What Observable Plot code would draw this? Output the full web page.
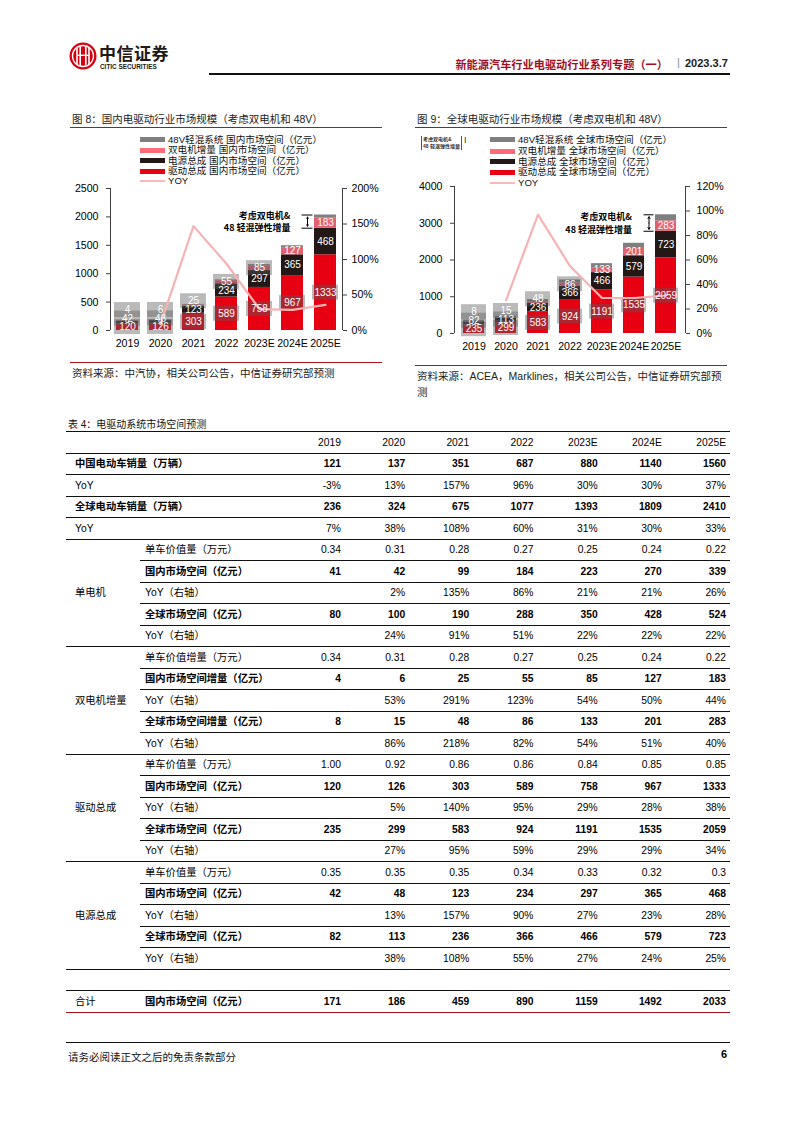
<!DOCTYPE html>
<html><head><meta charset="utf-8">
<script src="https://cdn.jsdelivr.net/npm/d3@7"></script>
<script src="https://cdn.jsdelivr.net/npm/@observablehq/plot@0.6"></script>
<style>
html,body{margin:0;padding:0;background:#fff}
body{width:794px;height:1123px;position:relative;overflow:hidden;font-family:"Liberation Sans",Arial,"Noto Sans CJK SC",sans-serif;color:#000}
.abs{position:absolute;white-space:nowrap}
.leg{position:absolute;font-size:9.6px;line-height:10px;white-space:nowrap;color:#111}
.sw{position:absolute;width:25px}
.figt{position:absolute;font-size:10.5px;color:#222;white-space:nowrap}
.redline{position:absolute;height:1px;background:#B5121B}
.src{position:absolute;font-size:10.5px;color:#222;line-height:16px}
.cell{position:absolute;white-space:nowrap;font-size:10.3px;line-height:21.5px;height:21.5px}
.num{text-align:right;width:60px}
.hl{position:absolute;height:1px;background:#111}
</style></head>
<body>
<div id="page"></div>
<script>
// ---------------- data ----------------
const years = ["2019","2020","2021","2022","2023E","2024E","2025E"];
const seriesNames = ["驱动总成","电源总成","双电机增量","48V轻混系统"];
const seriesColors = ["#E60012","#231815","#E3606E","#7F7F7F"];
const yoyColor = "#F7B3B3";

// Fig 8 domestic (亿元)
const cnDrive = [120,126,303,589,758,967,1333];
const cnPower = [42,48,123,234,297,365,468];
const cnDual  = [4,6,25,55,85,127,183];
const cn48v   = [5,6,8,12,19,33,49];
const cnYoy   = [null,9,147,94,30,29,36];
const cnLeftTicks = [0,500,1000,1500,2000,2500];
const cnRightTicks = [0,50,100,150,200];

// Fig 9 global (亿元)
const glDrive = [235,299,583,924,1191,1535,2059];
const glPower = [82,113,236,366,466,579,723];
const glDual  = [8,15,48,86,133,201,283];
const gl48v   = [40,40,55,80,110,140,165];
const glYoy   = [null,27,97,55,29,29,31];
const glLeftTicks = [0,1000,2000,3000,4000];
const glRightTicks = [0,20,40,60,80,100,120];

// Table 4
const cnEV = ["121","137","351","687","880","1140","1560"];
const cnEVYoy = ["-3%","13%","157%","96%","30%","30%","37%"];
const glEV = ["236","324","675","1077","1393","1809","2410"];
const glEVYoy = ["7%","38%","108%","60%","31%","30%","33%"];
const smUnit = ["0.34","0.31","0.28","0.27","0.25","0.24","0.22"];
const smCN = ["41","42","99","184","223","270","339"];
const smCNYoy = ["","2%","135%","86%","21%","21%","26%"];
const smGL = ["80","100","190","288","350","428","524"];
const smGLYoy = ["","24%","91%","51%","22%","22%","22%"];
const dmUnit = ["0.34","0.31","0.28","0.27","0.25","0.24","0.22"];
const dmCNYoy = ["","53%","291%","123%","54%","50%","44%"];
const dmGLYoy = ["","86%","218%","82%","54%","51%","40%"];
const drUnit = ["1.00","0.92","0.86","0.86","0.84","0.85","0.85"];
const drCNYoy = ["","5%","140%","95%","29%","28%","38%"];
const drGLYoy = ["","27%","95%","59%","29%","29%","34%"];
const pwUnit = ["0.35","0.35","0.35","0.34","0.33","0.32","0.3"];
const pwCNYoy = ["","13%","157%","90%","27%","23%","28%"];
const pwGLYoy = ["","38%","108%","55%","27%","24%","25%"];
const totalCN = ["171","186","459","890","1159","1492","2033"];

// ---------------- helpers ----------------
const page = document.getElementById("page");
function el(tag, cls, style, html){
  const e=document.createElement(tag); if(cls) e.className=cls;
  if(style) Object.assign(e.style, style); if(html!=null) e.innerHTML=html;
  page.appendChild(e); return e;
}
const px = v => v+"px";

// ---------------- header ----------------
const logo = el("div","abs",{left:"69px",top:"42px"});
logo.innerHTML = `<svg width="28" height="28" viewBox="0 0 28 28">
<circle cx="14" cy="14" r="13.5" fill="#D7000F"/>
<circle cx="14" cy="14" r="10.5" fill="none" stroke="#fff" stroke-width="1.3"/>
<rect x="7.2" y="6" width="1.6" height="16" fill="#fff"/><rect x="10.4" y="4.5" width="1.6" height="19" fill="#fff"/>
<rect x="16" y="4.5" width="1.6" height="19" fill="#fff"/><rect x="19.2" y="6" width="1.6" height="16" fill="#fff"/>
<rect x="8" y="12.6" width="12" height="1.4" fill="#fff"/></svg>`;
el("div","abs",{left:"99px",top:"44px",fontSize:"17px",lineHeight:"17px",fontWeight:"bold",letterSpacing:"0.5px",color:"#231815",fontFamily:"'Noto Sans CJK SC',sans-serif"},"中信证券");
el("div","abs",{left:"100px",top:"63px",fontSize:"6.4px",lineHeight:"7px",fontWeight:"bold",color:"#231815"},"CITIC SECURITIES");
el("div","abs",{right:"126px",top:"56px",fontSize:"11.2px",fontWeight:"bold",color:"#A00E1E",fontFamily:"'Noto Sans CJK SC',sans-serif"},"新能源汽车行业电驱动行业系列专题（一）");
el("div","abs",{left:"677px",top:"56px",fontSize:"11px",color:"#888"},"|");
el("div","abs",{left:"685px",top:"57px",fontSize:"11px",fontWeight:"bold",color:"#1a1a1a"},"2023.3.7");
el("div","abs",{left:"209px",top:"73px",width:"521px",height:"2px",background:"#111"});

// ---------------- chart builder ----------------
function makeChart(o){
  const plotH = o.height - o.marginTop - o.marginBottom;
  const upp = o.yMax / plotH;
  const factor = o.yMax / o.rMax;
  const cols = [o.drive,o.power,o.dual,o.v48];
  const stack=[], labels=[], boxes=[];
  years.forEach((yr,i)=>{
    let base=0, prev=-Infinity;
    cols.forEach((arr,k)=>{
      const v=arr[i];
      stack.push({year:yr, s:seriesNames[k], v});
      if(k<3){
        const ly=Math.max(base+v/2, prev+o.gap*upp);
        prev=ly;
        labels.push({year:yr, y:ly, t:String(v)});
        const boxed = k===0 || (k===1 && i<2) || (k===2 && i<o.dualBoxN);
        if(boxed) boxes.push({year:yr, y1:ly-7.5*upp, y2:ly+7.5*upp});
      }
      base+=v;
    });
  });
  const L = years.length-1;
  const lastYear = years[L];
  const lastTop = cols.reduce((s,a)=>s+a[L],0);
  const lastMid = o.drive[L]+o.power[L];
  const bm = (lastTop+lastMid)/2;
  const yoyPts = years.map((yr,i)=>({year:yr, y:o.yoy[i]})).filter(d=>d.y!=null).map(d=>({year:d.year, y:d.y*factor}));
  const axisLines = (index, scales, values, dims) => {
    const ns="http://www.w3.org/2000/svg";
    const g=document.createElementNS(ns,"g");
    const {width,height,marginLeft,marginRight,marginTop,marginBottom}=dims;
    for(const x of [marginLeft, width-marginRight]){
      const l=document.createElementNS(ns,"line");
      l.setAttribute("x1",x+0.5); l.setAttribute("x2",x+0.5);
      l.setAttribute("y1",marginTop); l.setAttribute("y2",height-marginBottom);
      l.setAttribute("stroke","#404040"); l.setAttribute("stroke-width","1");
      g.appendChild(l);
    }
    return g;
  };
  return Plot.plot({
    width:o.width, height:o.height,
    marginLeft:o.marginLeft, marginRight:o.marginRight, marginTop:o.marginTop, marginBottom:o.marginBottom,
    style:{fontSize:"10.6px", fontFamily:"'Liberation Sans',Arial,sans-serif", color:"#000", background:"transparent"},
    x:{type:"band", domain:years, paddingInner:0.33, paddingOuter:0.18, label:null},
    y:{domain:[0,o.yMax], label:null},
    color:{domain:seriesNames, range:seriesColors},
    marks:[
      Plot.barY(stack,{x:"year", y:"v", fill:"s"}),
      Plot.barY(boxes,{x:"year", y1:"y1", y2:"y2", fill:"#5a5a5a", fillOpacity:0.42, insetLeft:-2, insetRight:-2}),
      Plot.line(yoyPts,{x:"year", y:"y", stroke:yoyColor, strokeWidth:2.2}),
      Plot.text(labels,{x:"year", y:"y", text:"t", fill:"white", fontSize:10}),
      Plot.text([{year:years[L-1], y:lastTop}],{x:"year", y:"y", text:()=>"考虑双电机&\n48 轻混弹性增量", textAnchor:"end", lineAnchor:"top", dx:o.annDx, dy:o.annDy, fontWeight:"bold", fontSize:9, lineHeight:1.35, fontFamily:"'Noto Sans CJK SC',sans-serif", fill:"#000"}),
      Plot.tickY([{year:lastYear,y:lastTop},{year:lastYear,y:lastMid}],{x:"year", y:"y", dx:o.brDx, insetLeft:5.5, insetRight:5.5, stroke:"#000"}),
      Plot.arrow([{year:lastYear,a:bm,b:lastTop-2*upp},{year:lastYear,a:bm,b:lastMid+2*upp}],{x1:"year", x2:"year", y1:"a", y2:"b", dx:o.brDx, headLength:4, stroke:"#000", strokeWidth:1}),
      Plot.axisY(o.leftTicks,{anchor:"left", tickSize:4, tickPadding:8, label:null, stroke:"#404040", tickFormat:d=>String(d)}),
      Plot.axisY(o.rightTicks.map(p=>p*factor),{anchor:"right", tickSize:4, tickPadding:o.rPad, label:null, stroke:"#404040", tickFormat:d=>Math.round(d/factor)+"%"}),
      Plot.axisX({tickSize:0, tickPadding:9, label:null}),
      axisLines
    ]
  });
}

function legend(x0, ys, texts){
  const kinds=[{c:"#7F7F7F",h:5},{c:"#FF6B78",h:5},{c:"#231815",h:5},{c:"#E60012",h:5},{c:"#FBB8B8",h:2}];
  kinds.forEach((k,i)=>{
    el("div","sw",{left:px(x0), top:px(ys[i]-k.h/2), height:px(k.h), background:k.c});
    el("div","leg",{left:px(x0+28), top:px(ys[i]-5)}, texts[i]);
  });
}

// ---------------- Fig 8 ----------------
el("div","figt",{left:"72px",top:"111px"},"图 8：国内电驱动行业市场规模（考虑双电机和 48V）");
el("div","redline",{left:"70px",top:"127px",width:"312px"});
legend(140,[139.5,150,160.5,171,181],["48V轻混系统 国内市场空间（亿元）","双电机增量 国内市场空间（亿元）","电源总成 国内市场空间（亿元）","驱动总成 国内市场空间（亿元）","YOY"]);
const c1 = makeChart({drive:cnDrive,power:cnPower,dual:cnDual,v48:cn48v,yoy:cnYoy,yMax:2500,rMax:200,
  leftTicks:cnLeftTicks,rightTicks:cnRightTicks,width:320,height:170,marginLeft:44,marginRight:44,marginTop:5,marginBottom:23,
  gap:8.5,dualBoxN:5,annDx:-2,annDy:-5,brDx:-18,rPad:5});
const w1=el("div","abs",{left:"66px",top:"183px"}); w1.appendChild(c1);
el("div","redline",{left:"70px",top:"362px",width:"312px"});
el("div","src",{left:"72px",top:"365px"},"资料来源：中汽协，相关公司公告，中信证券研究部预测");

// ---------------- Fig 9 ----------------
el("div","figt",{left:"417px",top:"111px"},"图 9：全球电驱动行业市场规模（考虑双电机和 48V）");
el("div","redline",{left:"415px",top:"127px",width:"312px"});
el("div","abs",{left:"421px",top:"136px",fontSize:"5px",lineHeight:"7px",fontWeight:"bold",color:"#333",borderLeft:"1px solid #555",borderRight:"1px solid #555",padding:"0 1px"},"考虑双电机&amp;<br>48 轻混弹性增量");
el("div","abs",{left:"464px",top:"135px",fontSize:"9px",color:"#333"},"I");
legend(490,[139.5,151,161.5,172,183],["48V轻混系统 全球市场空间（亿元）","双电机增量 全球市场空间（亿元）","电源总成 全球市场空间（亿元）","驱动总成 全球市场空间（亿元）","YOY"]);
const c2 = makeChart({drive:glDrive,power:glPower,dual:glDual,v48:gl48v,yoy:glYoy,yMax:4000,rMax:120,
  leftTicks:glLeftTicks,rightTicks:glRightTicks,width:320,height:174,marginLeft:44,marginRight:45,marginTop:5,marginBottom:22,
  gap:8.5,dualBoxN:4,annDx:-2,annDy:-3,brDx:-17,rPad:7});
const w2=el("div","abs",{left:"410px",top:"181px"}); w2.appendChild(c2);
el("div","redline",{left:"415px",top:"365px",width:"312px"});
el("div","src",{left:"417px",top:"368px",width:"315px"},"资料来源：ACEA，Marklines，相关公司公告，中信证券研究部预<br>测");

// ---------------- Table 4 ----------------
el("div","abs",{left:"68px",top:"416px",fontSize:"10px",color:"#111"},"表 4：电驱动系统市场空间预测");
function group(name, unitLabel, unit, cnLabel, cn, cnY, glLabel, gl, glY){
  return [
    {sub:unitLabel, vals:unit, line:"sub"},
    {sub:cnLabel, vals:cn, bold:true, line:"sub"},
    {sub:"YoY（右轴）", vals:cnY, line:"sub", group:name},
    {sub:glLabel, vals:gl, bold:true, line:"sub"},
    {sub:"YoY（右轴）", vals:glY, line:"full"}
  ];
}
const rows = [
  {head:true, vals:years, line:"full"},
  {top:"中国电动车销量（万辆）", vals:cnEV, bold:true, line:"full"},
  {top:"YoY", vals:cnEVYoy, line:"full"},
  {top:"全球电动车销量（万辆）", vals:glEV, bold:true, line:"full"},
  {top:"YoY", vals:glEVYoy, line:"full"},
  ...group("单电机","单车价值量（万元）",smUnit,"国内市场空间（亿元）",smCN,smCNYoy,"全球市场空间（亿元）",smGL,smGLYoy),
  ...group("双电机增量","单车价值增量（万元）",dmUnit,"国内市场空间增量（亿元）",cnDual.map(String),dmCNYoy,"全球市场空间增量（亿元）",glDual.map(String),dmGLYoy),
  ...group("驱动总成","单车价值量（万元）",drUnit,"国内市场空间（亿元）",cnDrive.map(String),drCNYoy,"全球市场空间（亿元）",glDrive.map(String),drGLYoy),
  ...group("电源总成","单车价值量（万元）",pwUnit,"国内市场空间（亿元）",cnPower.map(String),pwCNYoy,"全球市场空间（亿元）",glPower.map(String),pwGLYoy),
  {blank:true, line:"full"},
  {group:"合计", sub:"国内市场空间（亿元）", vals:totalCN, bold:true, line:"red"}
];
const T0 = 431.5, RH = 21.5, TL = 66, TR = 730;
const colRight = [341,405.2,469.3,533.5,597.7,661.8,726];
el("div","hl",{left:px(TL),top:px(T0-0.75),width:px(TR-TL),height:"1.5px"});
rows.forEach((r,i)=>{
  const top = T0 + i*RH;
  const fw = r.bold ? "bold" : "normal";
  if(r.top) el("div","cell",{left:"75px",top:px(top),fontWeight:fw},r.top);
  if(r.sub) el("div","cell",{left:"145px",top:px(top),fontWeight:fw},r.sub);
  if(r.group) el("div","cell",{left:"75px",top:px(top),fontWeight:"normal"},r.group);
  if(r.vals) r.vals.forEach((v,j)=>{
    el("div","cell num",{left:px(colRight[j]-60),top:px(top),fontWeight:fw},v);
  });
  const ly = top+RH-0.5;
  if(r.line==="sub") el("div","hl",{left:"140px",top:px(ly),width:px(TR-140)});
  else if(r.line==="full") el("div","hl",{left:px(TL),top:px(ly),width:px(TR-TL)});
  else if(r.line==="red") el("div","hl",{left:px(TL),top:px(ly),width:px(TR-TL),background:"#A8101E"});
});

// ---------------- footer ----------------
el("div","hl",{left:"66px",top:"1042px",width:"664px"});
el("div","abs",{left:"68px",top:"1049px",fontSize:"10.5px",color:"#111"},"请务必阅读正文之后的免责条款部分");
el("div","abs",{left:"721px",top:"1048px",fontSize:"11px",fontWeight:"bold"},"6");
</script>
</body></html>
